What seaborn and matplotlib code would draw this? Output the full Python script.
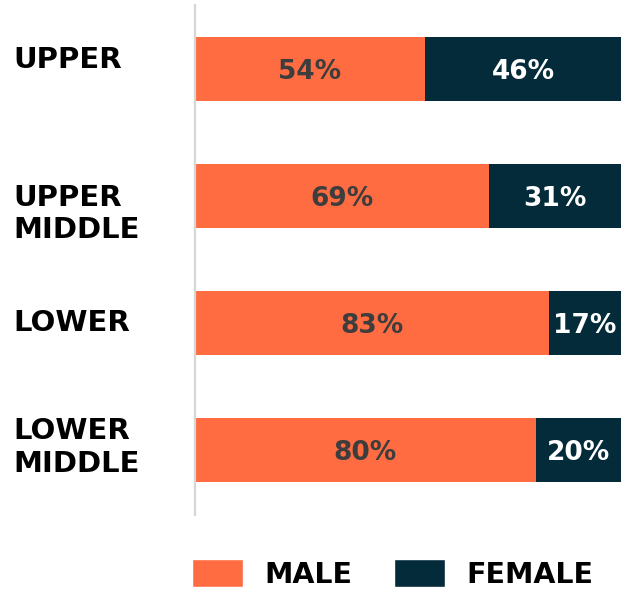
import numpy as np
import pandas as pd
import matplotlib.pyplot as plt
import matplotlib.transforms as mtransforms
from matplotlib.patches import Patch
import seaborn as sns

# Data
categorias = ['UPPER', 'UPPER\nMIDDLE', 'LOWER', 'LOWER\nMIDDLE']
male = [54, 69, 83, 80]
female = [46, 31, 17, 20]

# Style
sns.set_style('white')
plt.rcParams['font.family'] = ['DejaVu Sans']
COR_MALE = '#FF6C41'
COR_FEMALE = '#032B3A'

df = pd.DataFrame({'categoria': categorias, 'male': male, 'female': female})
df['total'] = df['male'] + df['female']

fig = plt.figure(figsize=(6.21, 5.9), dpi=100)
ax = fig.add_axes([195 / 621, 1 - 515 / 590, 426 / 621, 510 / 590])

# stacked: full bar in navy, male part on top in orange
sns.barplot(data=df, x='total', y='categoria', color=COR_FEMALE, width=0.5,
            saturation=1, linewidth=0, ax=ax)
sns.barplot(data=df, x='male', y='categoria', color=COR_MALE, width=0.5,
            saturation=1, linewidth=0, ax=ax)

ax.set_xlim(0, 100)
ax.set_ylim(3.51, -0.505)
ax.set_xlabel('')
ax.set_ylabel('')
ax.set_xticks([])
ax.set_yticks([])
for lado in ['top', 'right', 'bottom']:
    ax.spines[lado].set_visible(False)
ax.spines['left'].set_color('#d6d6d6')
ax.spines['left'].set_linewidth(1.6)

# value labels
for i, (m, f) in enumerate(zip(male, female)):
    ax.text(m / 2, i + 0.02, f'{m}%', ha='center', va='center', fontsize=19,
            fontweight='bold', color='#3d3d3d')
    ax.text(m + f / 2, i + 0.02, f'{f}%', ha='center', va='center', fontsize=19,
            fontweight='bold', color='white')

# category labels (left side)
ajuste_y = [-0.07, 0.14, 0.0, -0.02]
trans = mtransforms.blended_transform_factory(fig.transFigure, ax.transData)
for i, (cat, dy) in enumerate(zip(categorias, ajuste_y)):
    ax.text(13 / 621, i + dy, cat, transform=trans, ha='left', va='center',
            fontsize=21, fontweight='bold', color='black', linespacing=1.2)

# legend
legend_elements = [
    Patch(facecolor=COR_MALE, label='MALE'),
    Patch(facecolor=COR_FEMALE, label='FEMALE'),
]
leg = fig.legend(handles=legend_elements, loc='lower center', ncol=2,
                 bbox_to_anchor=(0.632, -0.022), frameon=False,
                 prop={'size': 20.5, 'weight': 'bold'},
                 handlelength=1.8, handleheight=1.15, handletextpad=0.75,
                 columnspacing=1.45, borderpad=0)
for t in leg.get_texts():
    t.set_color('black')

plt.savefig('out.png', dpi=100)
plt.close()
